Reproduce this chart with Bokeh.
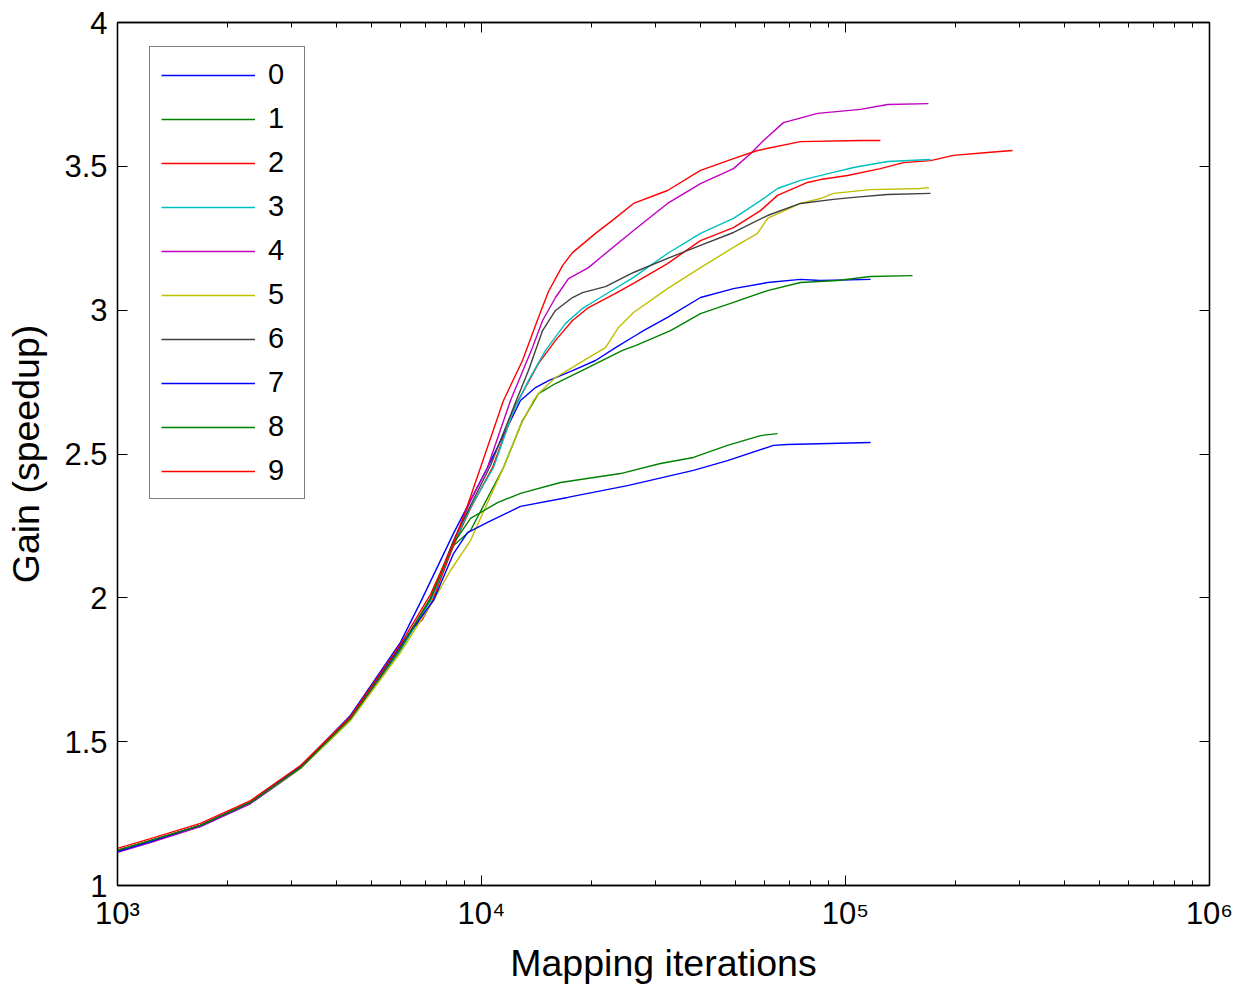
from bokeh.plotting import figure
from bokeh.models import Legend, LegendItem, LinearAxis, LogAxis, FixedTicker, Range1d
from bokeh.embed import file_html
from bokeh.resources import INLINE

# ---- data ----
labels = ["0", "1", "2", "3", "4", "5", "6", "7", "8", "9"]
colors = ["#0000ff", "#008000", "#ff0000", "#00bfbf", "#bf00bf",
          "#bfbf00", "#404040", "#0000ff", "#008000", "#ff0000"]

x0 = [1000, 1232, 1690, 2320, 3182, 4365, 5990, 6800, 8377, 10388, 12796, 14073, 15278, 17783,
      20570, 23350, 26490, 27870, 32440, 39960, 49240, 61060, 75200, 85380, 117200]
y0 = [1.118, 1.153, 1.209, 1.289, 1.414, 1.591, 1.845, 1.985, 2.224, 2.453, 2.686, 2.731, 2.755, 2.790,
      2.825, 2.870, 2.912, 2.929, 2.975, 3.044, 3.075, 3.096, 3.107, 3.103, 3.107]

x1 = [1000, 1232, 1690, 2320, 3182, 4365, 5990, 7244, 8377, 9328, 11492, 12960, 14346, 15970,
      19679, 24400, 26490, 33060, 39960, 49240, 61060, 75200, 95050, 117200, 152800]
y1 = [1.122, 1.156, 1.209, 1.289, 1.410, 1.577, 1.820, 1.991, 2.182, 2.234, 2.453, 2.616, 2.710, 2.745,
      2.801, 2.860, 2.877, 2.929, 2.988, 3.027, 3.068, 3.096, 3.103, 3.117, 3.120]

x2 = [1000, 1232, 1690, 2320, 3182, 4365, 5990, 6463, 6885, 7337, 8377, 9328, 10720, 12400, 14346,
      15970, 17783, 19679, 23350, 26160, 32440, 39960, 49240, 58420, 65050, 78630, 85380, 101300,
      124700, 144300, 171200, 198000, 245400, 287600]
y2 = [1.122, 1.156, 1.209, 1.289, 1.410, 1.581, 1.817, 1.893, 1.925, 1.991, 2.182, 2.311, 2.453, 2.669,
      2.815, 2.895, 2.964, 3.009, 3.058, 3.093, 3.162, 3.242, 3.287, 3.346, 3.399, 3.444, 3.454, 3.468,
      3.492, 3.513, 3.520, 3.538, 3.548, 3.555]

x3 = [1000, 1232, 1690, 2320, 3182, 4365, 5990, 7244, 8377, 9328, 10790, 12243, 13460, 14990, 17018,
      18946, 21230, 26160, 32440, 39960, 49240, 58420, 65050, 75200, 92680, 105200, 130500, 171200]
y3 = [1.122, 1.156, 1.205, 1.285, 1.407, 1.574, 1.817, 1.991, 2.189, 2.314, 2.453, 2.651, 2.755, 2.860,
      2.954, 3.006, 3.044, 3.114, 3.197, 3.267, 3.319, 3.381, 3.423, 3.451, 3.479, 3.496, 3.517, 3.524]

x4 = [1000, 1232, 1690, 2320, 3182, 4365, 5990, 7244, 8377, 9328, 10388, 12014, 13807, 14716, 15970,
      17338, 19679, 21230, 26160, 32440, 39960, 49240, 54810, 59550, 67530, 83780, 110000, 130500, 169000]
y4 = [1.115, 1.149, 1.205, 1.285, 1.407, 1.577, 1.824, 1.998, 2.196, 2.338, 2.453, 2.686, 2.870, 2.964,
      3.044, 3.110, 3.148, 3.183, 3.277, 3.371, 3.440, 3.492, 3.544, 3.590, 3.652, 3.684, 3.698, 3.715, 3.718]

x5 = [1000, 1232, 1690, 2320, 3182, 4365, 5990, 7383, 8218, 9328, 10452, 11492, 12796, 13900, 14346,
      15970, 17783, 19679, 21910, 23790, 26160, 32440, 39960, 49240, 57310, 61060, 75200, 85380, 92680,
      117200, 160700, 169600]
y5 = [1.122, 1.156, 1.209, 1.289, 1.407, 1.574, 1.810, 1.991, 2.095, 2.199, 2.338, 2.453, 2.599, 2.686,
      2.710, 2.766, 2.801, 2.835, 2.870, 2.940, 2.992, 3.075, 3.148, 3.218, 3.267, 3.319, 3.371, 3.388,
      3.406, 3.419, 3.423, 3.426]

x6 = [1000, 1232, 1690, 2320, 3182, 4365, 5990, 7244, 8377, 9328, 10586, 12400, 13460, 14716, 15970,
      17783, 18946, 21910, 26160, 32440, 39960, 49240, 61060, 75200, 92680, 105200, 130500, 171200]
y6 = [1.122, 1.156, 1.209, 1.289, 1.410, 1.581, 1.827, 1.998, 2.199, 2.321, 2.460, 2.679, 2.790, 2.929,
      2.999, 3.044, 3.061, 3.082, 3.131, 3.180, 3.225, 3.270, 3.329, 3.371, 3.385, 3.392, 3.402, 3.406]

x7 = [1000, 1232, 1690, 2320, 3182, 4365, 5990, 7383, 8377, 9153, 10388, 12796, 17235, 25180, 38220,
      47400, 63410, 69270, 117200]
y7 = [1.118, 1.153, 1.209, 1.289, 1.414, 1.587, 1.834, 1.991, 2.154, 2.227, 2.262, 2.318, 2.349, 2.390,
      2.443, 2.477, 2.530, 2.533, 2.540]

x8 = [1000, 1232, 1690, 2320, 3182, 4365, 5990, 7244, 8377, 9328, 11066, 12796, 16482, 24090, 31020,
      38220, 47400, 58420, 65050]
y8 = [1.122, 1.156, 1.209, 1.289, 1.410, 1.581, 1.824, 1.998, 2.189, 2.276, 2.331, 2.363, 2.401, 2.432,
      2.467, 2.488, 2.530, 2.564, 2.571]

x9 = [1000, 1232, 1690, 2320, 3182, 4365, 5990, 7244, 8377, 9153, 9939, 11492, 12960, 14346, 15278,
      16697, 17783, 20570, 22900, 26160, 32440, 39960, 49240, 57310, 75200, 110000, 124700]
y9 = [1.129, 1.163, 1.216, 1.295, 1.417, 1.587, 1.838, 2.012, 2.189, 2.321, 2.453, 2.686, 2.825, 2.975,
      3.065, 3.155, 3.200, 3.267, 3.312, 3.371, 3.416, 3.486, 3.527, 3.555, 3.586, 3.590, 3.590]

xs = [x0, x1, x2, x3, x4, x5, x6, x7, x8, x9]
ys = [y0, y1, y2, y3, y4, y5, y6, y7, y8, y9]

x_major = [1e3, 1e4, 1e5, 1e6]
x_minor = [m * 10 ** e for e in (3, 4, 5) for m in range(2, 10)]
x_tick_labels = {1000: "10\u00b3", 10000: "10\u2074", 100000: "10\u2075", 1000000: "10\u2076"}
y_major = [1, 1.5, 2, 2.5, 3, 3.5, 4]
y_tick_labels = {1: "1", 1.5: "1.5", 2: "2", 2.5: "2.5", 3: "3", 3.5: "3.5", 4: "4"}

FONT = "Liberation Sans"

p = figure(frame_width=1092, frame_height=863, x_axis_type="log",
           x_range=Range1d(1e3, 1e6), y_range=Range1d(1, 4),
           output_backend="svg", toolbar_location=None,
           min_border_left=117, min_border_right=25, min_border_top=22, min_border_bottom=97)
p.grid.visible = False
p.outline_line_color = "black"
p.outline_line_width = 1.3
p.background_fill_color = "white"
p.border_fill_color = "white"

def style_axis(ax, fs="31px"):
    ax.axis_line_color = "black"
    ax.axis_line_width = 1.3
    ax.major_tick_line_color = "black"
    ax.minor_tick_line_color = "black"
    ax.major_tick_in = 10
    ax.major_tick_out = 0
    ax.minor_tick_in = 5
    ax.minor_tick_out = 0
    ax.major_label_text_font = FONT
    ax.major_label_text_font_size = fs
    ax.major_label_text_color = "black"
    ax.axis_label_text_font = FONT
    ax.axis_label_text_font_size = "37.5px"
    ax.axis_label_text_font_style = "normal"
    ax.axis_label_text_color = "black"

xa = p.xaxis[0]
xa.ticker = FixedTicker(ticks=x_major, minor_ticks=x_minor)
xa.major_label_overrides = x_tick_labels
style_axis(xa)
xa.major_label_standoff = 10
xa.axis_label = "Mapping iterations"
xa.axis_label_standoff = 8

ya = p.yaxis[0]
ya.ticker = FixedTicker(ticks=y_major)
ya.major_label_overrides = y_tick_labels
style_axis(ya)
ya.minor_tick_in = 0
ya.major_label_standoff = 10
ya.axis_label = "Gain (speedup)"
ya.axis_label_standoff = 14

top = LogAxis(ticker=FixedTicker(ticks=x_major, minor_ticks=x_minor))
style_axis(top, "0px")
top.major_label_standoff = 0
top.major_label_overrides = {1000: "", 10000: "", 100000: "", 1000000: ""}
p.add_layout(top, "above")

right = LinearAxis(ticker=FixedTicker(ticks=y_major))
style_axis(right, "0px")
right.minor_tick_in = 0
right.major_label_standoff = 0
right.major_label_overrides = {1: "", 1.5: "", 2: "", 2.5: "", 3: "", 3.5: "", 4: ""}
p.add_layout(right, "right")

renderers = []
for i in range(10):
    r = p.line(xs[i], ys[i], line_color=colors[i], line_width=1.4)
    renderers.append(r)

legend = Legend(items=[LegendItem(label=labels[i], renderers=[renderers[i]]) for i in range(10)],
                location=(32, 386), orientation="vertical",
                label_text_font=FONT, label_text_font_size="29px", label_text_color="black",
                glyph_width=94, glyph_height=28, label_height=28, label_width=25,
                label_standoff=13, spacing=11, padding=11, margin=0,
                border_line_color="black", border_line_width=1.5,
                background_fill_color="white", background_fill_alpha=1.0)
p.add_layout(legend)

open("out.html", "w").write(file_html(p, INLINE))
